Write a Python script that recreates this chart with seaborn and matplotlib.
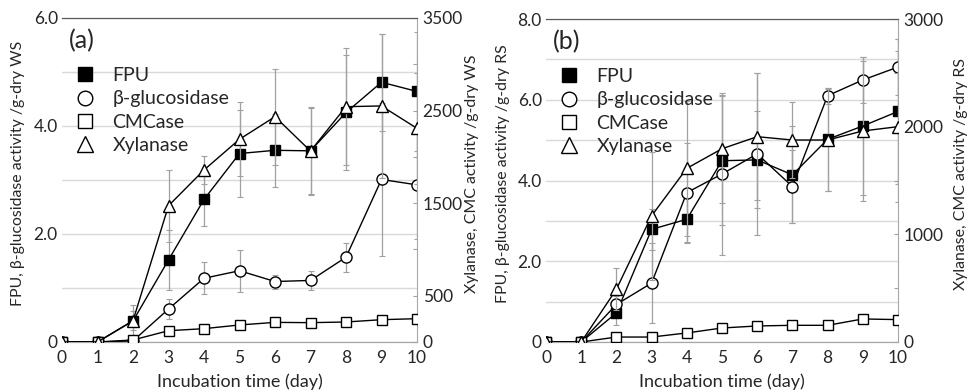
import numpy as np
import pandas as pd
import matplotlib
matplotlib.use("Agg")
import matplotlib.pyplot as plt
import seaborn as sns
from matplotlib.lines import Line2D

days = list(range(11))

# panel (a) - wheat straw
a_fpu = [0, 0, 0.39, 1.52, 2.64, 3.49, 3.55, 3.54, 4.25, 4.81, 4.64]
a_fpu_err = [0, 0, 0.3, 0.55, 0.5, 0.8, 0.68, 0.8, 1.07, 0.9, 1.1]
a_bglu = [0, 0, 0.02, 0.61, 1.18, 1.32, 1.12, 1.14, 1.57, 3.01, 2.91]
a_bglu_err = [0, 0, 0.05, 0.19, 0.3, 0.39, 0.13, 0.17, 0.27, 1.42, 1.0]
a_cmc = [0, 0, 22, 122, 144, 184, 212, 209, 216, 241, 252]
a_xyl = [0, 0, 230, 1472, 1858, 2190, 2434, 2063, 2542, 2550, 2308]
a_xyl_err = [0, 0, 100, 390, 150, 400, 520, 475, 630, 780, 600]

# panel (b) - rice straw
b_fpu = [0, 0, 0.72, 2.79, 3.04, 4.49, 4.51, 4.14, 5.02, 5.35, 5.71]
b_fpu_err = [0, 0, 0.3, 0.5, 0.57, 1.6, 1.2, 1.2, 1.27, 1.7, 1.8]
b_bglu = [0, 0, 0.93, 1.46, 3.70, 4.16, 4.66, 3.85, 6.10, 6.49, 6.81]
b_bglu_err = [0, 0, 0.2, 1.0, 1.24, 2.0, 2.0, 0.9, 0.2, 0.57, 0.7]
b_cmc = [0, 0, 46, 46, 84, 130, 149, 155, 155, 214, 208]
b_xyl = [0, 0, 490, 1172, 1613, 1795, 1907, 1876, 1876, 1960, 2000]
b_xyl_err = [0, 0, 195, 595, 630, 500, 590, 355, 475, 650, 700]

sns.set_style("white")
plt.rcParams["font.family"] = ["Lato", "DejaVu Sans"]

GRID = "#d9d9d9"
ERR = "#a0a0a0"


def draw_series(ax, y, err, marker, face, ms):
    if err is not None:
        ax.errorbar(days, y, yerr=err, fmt="none", ecolor=ERR, elinewidth=0.9,
                    capsize=2, capthick=0.8, zorder=1)
    sns.lineplot(x=days, y=y, ax=ax, color="black", lw=1, marker=marker,
                 markersize=ms, markerfacecolor=face, markeredgecolor="black",
                 markeredgewidth=1, zorder=3)


def draw_panel(rect, letter, fpu, fpu_err, bglu, bglu_err, cmc, xyl, xyl_err,
               lmax, rmax, rlabels, unit, lx, rx):
    ax = fig.add_axes(rect)
    ax2 = ax.twinx()

    draw_series(ax, fpu, fpu_err, "s", "black", 7.2)
    draw_series(ax, bglu, bglu_err, "o", "white", 8)
    draw_series(ax2, cmc, None, "s", "white", 7.2)
    draw_series(ax2, xyl, xyl_err, "^", "white", 8)

    ax.set_xlim(0, 10)
    ax.set_ylim(0, lmax)
    ax2.set_ylim(0, rmax)
    ax.set_xticks(days)
    ax.set_xticklabels([str(d) for d in days])
    yt = np.arange(0, lmax + 0.5, 1.0)
    ax.set_yticks(yt)
    ax.set_yticklabels(["0" if v == 0 else (f"{v:.1f}" if v % 2 == 0 else "") for v in yt])
    ax.grid(axis="y", color=GRID, lw=1)
    ax.set_axisbelow(True)
    rt = np.arange(0, rmax + 1, 500)
    ax2.set_yticks(rt)
    ax2.set_yticklabels(rlabels)

    ax.tick_params(axis="y", length=0, labelsize=12.5, pad=3)
    ax.tick_params(axis="x", length=0, labelsize=12.5, pad=6)
    ax2.tick_params(axis="y", direction="in", length=3, color="#a0a0a0",
                    labelsize=12.5, pad=4)

    ax.spines["left"].set_visible(False)
    ax2.spines["left"].set_visible(False)
    ax2.spines["top"].set_color("#595959")
    ax2.spines["right"].set_color("#a6a6a6")
    ax2.spines["bottom"].set_color("#a6a6a6")
    ax.spines["top"].set_color("#595959")
    ax.spines["right"].set_visible(False)
    ax.spines["bottom"].set_color("#a6a6a6")

    ax.set_xlabel("Incubation time (day)", fontsize=13)
    ax.xaxis.label.set_va("center")
    ax.xaxis.set_label_coords(0.5, -0.123)
    ax.set_ylabel(f"FPU, β-glucosidase activity /g-dry {unit}", fontsize=11.4)
    ax.yaxis.label.set_va("center")
    ax.yaxis.set_label_coords(lx, 0.52)
    ax2.set_ylabel(f"Xylanase, CMC activity /g-dry {unit}", fontsize=11.4)
    ax2.yaxis.label.set_va("center")
    ax2.yaxis.set_label_coords(rx, 0.52)

    ax.text(0.02, 0.93, letter, transform=ax.transAxes, fontsize=18,
            ha="left", va="center")

    handles = [
        Line2D([], [], ls="none", marker="s", ms=10, mfc="black", mec="black"),
        Line2D([], [], ls="none", marker="o", ms=10.5, mfc="white", mec="black"),
        Line2D([], [], ls="none", marker="s", ms=10, mfc="white", mec="black"),
        Line2D([], [], ls="none", marker="^", ms=11, mfc="white", mec="black"),
    ]
    ax2.legend(handles, ["FPU", "β-glucosidase", "CMCase", "Xylanase"],
               loc="upper left", bbox_to_anchor=(0.0, 0.89), frameon=False,
               fontsize=14, handletextpad=0.9, labelspacing=0.32,
               borderaxespad=0.3, handlelength=1.0)
    return ax, ax2


fig = plt.figure(figsize=(9.68, 3.91), dpi=100)

draw_panel([62 / 968, 1 - 342 / 391, 355 / 968, 324 / 391], "(a)",
           a_fpu, a_fpu_err, a_bglu, a_bglu_err, a_cmc, a_xyl, a_xyl_err,
           6.0, 3500,
           ["0", "500", "", "1500", "", "2500", "", "3500"], "WS",
           -0.124, 1.155)

draw_panel([546 / 968, 1 - 342 / 391, 352 / 968, 323 / 391], "(b)",
           b_fpu, b_fpu_err, b_bglu, b_bglu_err, b_cmc, b_xyl, b_xyl_err,
           8.0, 3000,
           ["0", "", "1000", "", "2000", "", "3000"], "RS",
           -0.122, 1.178)

fig.savefig("out.png", dpi=100)
